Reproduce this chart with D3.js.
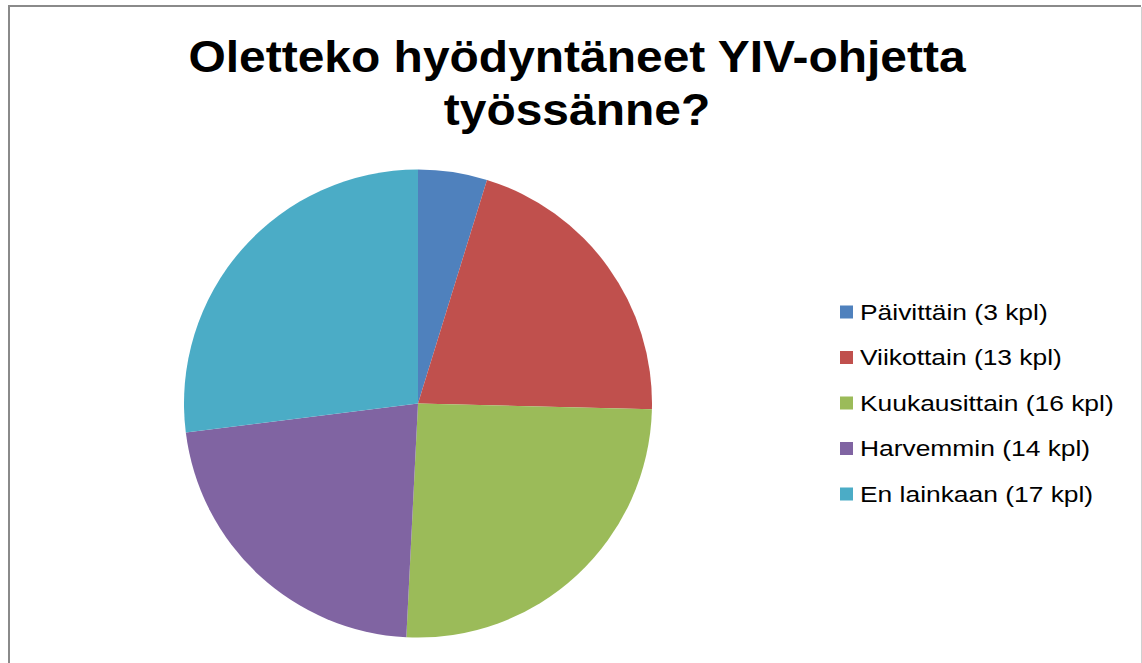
<!DOCTYPE html>
<html>
<head>
<meta charset="utf-8">
<script src="https://cdn.jsdelivr.net/npm/d3@7"></script>
<style>
    body { margin: 0; background: #fff; }
    svg { display: block; }
</style>
</head>
<body>
<div id="chart"></div>
<script>
// Data
const categories = ["Päivittäin (3 kpl)", "Viikottain (13 kpl)", "Kuukausittain (16 kpl)", "Harvemmin (14 kpl)", "En lainkaan (17 kpl)"];
const counts = [3, 13, 16, 14, 17];
const colors = ["#4F81BD", "#C0504D", "#9BBB59", "#8064A2", "#4BACC6"];
const titleLines = ["Oletteko hyödyntäneet YIV-ohjetta", "työssänne?"];

const width = 1142;
const height = 663;

const svg = d3.select("#chart")
    .append("svg")
    .attr("width", width)
    .attr("height", height);

// Chart area frame
svg.append("line")
    .attr("x1", 9).attr("y1", 6).attr("x2", 1141).attr("y2", 6)
    .attr("stroke", "#8a8a8a").attr("stroke-width", 2);
svg.append("line")
    .attr("x1", 9).attr("y1", 5).attr("x2", 9).attr("y2", 663)
    .attr("stroke", "#8a8a8a").attr("stroke-width", 2);
svg.append("line")
    .attr("x1", 1141.5).attr("y1", 7).attr("x2", 1141.5).attr("y2", 663)
    .attr("stroke", "#d0d0d0").attr("stroke-width", 1);

// Title (the original text is drawn a bit wider than Arial, so stretch it)
svg.append("g")
    .attr("transform", "translate(577,0) scale(1.09,1)")
    .append("text")
    .attr("text-anchor", "middle")
    .style("font-family", "'Liberation Sans', Arial, sans-serif")
    .style("font-size", "44px")
    .style("font-weight", "bold")
    .attr("fill", "#000")
    .selectAll("tspan")
    .data(titleLines)
    .enter().append("tspan")
    .attr("x", 0)
    .attr("y", (d, i) => 72 + i * 53)
    .text(d => d);

// Pie
const cx = 418, cy = 403.5, radius = 234;
const pie = d3.pie().sort(null).value(d => d);
const arc = d3.arc().innerRadius(0).outerRadius(radius);

const g = svg.append("g").attr("transform", `translate(${cx},${cy})`);
g.selectAll("path")
    .data(pie(counts))
    .enter().append("path")
    .attr("d", arc)
    .attr("fill", (d, i) => colors[i]);

// Legend
const legend = svg.append("g").attr("transform", "translate(840,312)");
const rows = legend.selectAll("g")
    .data(categories)
    .enter().append("g")
    .attr("transform", (d, i) => `translate(0,${i * 45.5})`);

rows.append("rect")
    .attr("x", 0).attr("y", -6.5)
    .attr("width", 13).attr("height", 13)
    .attr("fill", (d, i) => colors[i]);

rows.append("g")
    .attr("transform", "translate(20,0) scale(1.2,1)")
    .append("text")
    .attr("x", 0)
    .attr("y", 0)
    .attr("dy", "0.36em")
    .style("font-family", "'Liberation Sans', Arial, sans-serif")
    .style("font-size", "22px")
    .attr("fill", "#000")
    .text(d => d);
</script>
</body>
</html>
